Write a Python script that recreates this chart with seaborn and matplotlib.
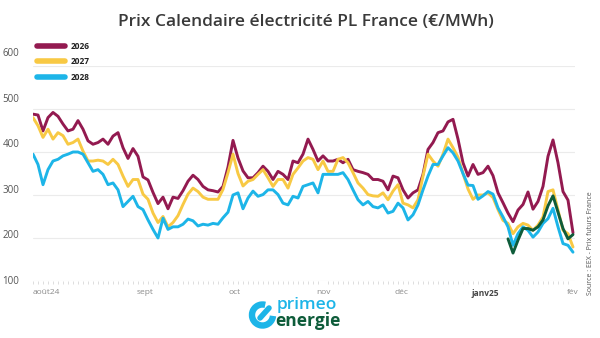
import numpy as np
import pandas as pd
import matplotlib
matplotlib.use("Agg")
import matplotlib.pyplot as plt
import matplotlib.transforms as mtransforms
from matplotlib.patches import Arc
from matplotlib.lines import Line2D
import seaborn as sns

# Daily calendar baseload prices, €/MWh (Aug 2024 – early Feb 2025)
cal_2026 = [488, 486, 449, 480, 492, 483, 465, 449, 453, 473, 453, 426, 418, 422, 430, 418, 437, 445, 410, 385,
            408, 390, 342, 335, 306, 280, 295, 268, 295, 292, 310, 332, 346, 336, 320, 312, 310, 307, 320, 365,
            427, 386, 356, 340, 340, 352, 367, 355, 336, 355, 348, 336, 379, 375, 395, 430, 406, 379, 391, 379,
            379, 383, 375, 383, 359, 355, 352, 348, 336, 336, 332, 312, 344, 340, 312, 293, 305, 312, 348, 406,
            422, 445, 449, 470, 476, 430, 375, 344, 371, 348, 352, 367, 345, 305, 282, 258, 238, 265, 278, 307,
            267, 285, 320, 390, 428, 375, 308, 288, 212]
cal_2027 = [480, 461, 434, 453, 430, 445, 438, 418, 422, 430, 402, 379, 379, 381, 379, 371, 383, 371, 344, 320,
            336, 336, 302, 290, 258, 236, 250, 226, 236, 252, 278, 302, 316, 308, 295, 290, 290, 290, 313, 352,
            395, 350, 321, 332, 336, 348, 359, 340, 320, 336, 336, 316, 348, 363, 379, 387, 383, 359, 379, 355,
            355, 383, 387, 375, 352, 328, 316, 301, 298, 297, 305, 289, 309, 324, 281, 277, 270, 289, 344, 395,
            379, 367, 395, 430, 410, 388, 350, 314, 290, 300, 300, 305, 294, 266, 241, 234, 210, 226, 234, 230,
            218, 230, 249, 308, 312, 265, 218, 210, 179]
cal_2028 = [395, 371, 324, 359, 379, 383, 391, 395, 400, 400, 395, 375, 355, 359, 348, 324, 328, 312, 273, 285,
            297, 273, 266, 242, 220, 200, 246, 220, 226, 226, 232, 244, 240, 228, 232, 230, 234, 232, 247, 260,
            300, 305, 268, 293, 309, 297, 301, 312, 312, 301, 281, 277, 297, 293, 320, 324, 328, 305, 348, 348,
            348, 348, 352, 336, 312, 289, 277, 285, 273, 270, 277, 258, 262, 281, 270, 242, 254, 277, 312, 344,
            371, 371, 391, 410, 398, 379, 350, 323, 322, 290, 298, 308, 302, 270, 249, 226, 183, 210, 226, 218,
            202, 214, 234, 245, 269, 226, 187, 183, 167]
# Extra contract quoted only from mid-January
cal_extra_start = 95
cal_extra = [198, 165, 195, 222, 222, 218, 226, 242, 275, 298, 260, 222, 198, 208]

series_names = ["2026", "2027", "2028"]
series_colors = ["#931A50", "#F8C944", "#1DB5E8"]
extra_color = "#0E5C3A"

month_labels = ["août24", "sept", "oct", "nov", "déc", "janv25", "fév"]
month_pos = [2.6, 22.4, 40.4, 58.0, 73.6, 90.4, 108.0]
y_ticks = [100, 200, 300, 400, 500, 600]

n = len(cal_2026)
day = np.arange(n)
df = pd.concat([
    pd.DataFrame({"jour": day, "prix": vals, "contrat": name})
    for name, vals in zip(series_names, [cal_2026, cal_2027, cal_2028])
], ignore_index=True)
df_extra = pd.DataFrame({"jour": np.arange(cal_extra_start, cal_extra_start + len(cal_extra)),
                         "prix": cal_extra})

sns.set_theme(style="white")
plt.rcParams["font.family"] = ["Open Sans", "DejaVu Sans"]

W, H = 600, 338
fig = plt.figure(figsize=(W / 100, H / 100), dpi=100)
fig.patch.set_facecolor("white")
ax = fig.add_axes([33 / W, 1 - 281 / H, 542 / W, 215 / H])

sns.lineplot(data=df, x="jour", y="prix", hue="contrat", palette=dict(zip(series_names, series_colors)),
             linewidth=2.1, ax=ax, legend=False)
sns.lineplot(data=df_extra, x="jour", y="prix", color=extra_color, linewidth=2.1, ax=ax, legend=False)

ax.set_xlim(0, 108.4)
ax.set_ylim(100, 600)
ax.set_xlabel("")
ax.set_ylabel("")
for s in ax.spines.values():
    s.set_visible(False)

ax.set_yticks(y_ticks)
ax.set_yticklabels([str(v) for v in y_ticks])
ax.yaxis.grid(True, color="#ebebeb", linewidth=0.8)
ax.tick_params(axis="y", length=0, pad=22, labelsize=7, labelcolor="#555555")
# value labels sit slightly above their gridlines, a little more so toward the top
for v, lab in zip(y_ticks, ax.get_yticklabels()):
    lift_px = 2.4 * (v - 100) / 100
    lab.set_horizontalalignment("left")
    lab.set_verticalalignment("center")
    lab.set_transform(lab.get_transform() +
                      mtransforms.ScaledTranslation(0, lift_px / 100, fig.dpi_scale_trans))

ax.set_xticks(month_pos)
ax.set_xticklabels(month_labels)
ax.set_xticks(np.arange(0, 109, 1), minor=True)
ax.tick_params(axis="x", which="major", length=0, pad=6, labelsize=6, labelcolor="#8a8a8a")
ax.tick_params(axis="x", which="minor", length=2.5, width=0.5, color="#d0d0d0", bottom=True)
for lab in ax.get_xticklabels():
    if lab.get_text() == "janv25":
        lab.set_fontweight("bold")
        lab.set_color("#444444")

handles = [Line2D([0], [0], color=c, linewidth=4) for c in series_colors]
leg = ax.legend(handles, series_names, loc="upper left", bbox_to_anchor=(37 / W, 1 - 42 / H),
                bbox_transform=fig.transFigure, frameon=False, borderpad=0, borderaxespad=0,
                handlelength=3.4, handletextpad=0.6, labelspacing=0.75,
                prop={"size": 6, "weight": "bold"})
for t in leg.get_texts():
    t.set_color("#222222")

fig.text(0.51, 1 - 22 / H, "Prix Calendaire électricité PL France (€/MWh)", ha="center", va="center",
         fontsize=12.5, fontweight="semibold", color="#3a3a3a")

fig.text(591 / W, 1 - 243 / H, "Source : EEX - Prix futurs France", rotation=90, ha="center", va="center",
         fontsize=5, color="#555555")

# brand mark
inch = fig.dpi_scale_trans
fig.add_artist(Arc((2.625, (H - 315) / 100), 0.21, 0.21, theta1=75, theta2=355,
                   transform=inch, color="#1DB5E8", linewidth=4.6))
fig.add_artist(Line2D([2.60, 2.69], [(H - 318) / 100, (H - 308) / 100], transform=inch,
                      color="#1DB5E8", linewidth=4.0, solid_capstyle="round"))
fig.text(277 / W, 1 - 309 / H, "primeo", ha="left", va="baseline", fontsize=12.5,
         color="#1DB5E8", fontweight="semibold")
fig.text(275 / W, 1 - 326 / H, "energie", ha="left", va="baseline", fontsize=12.5,
         color="#0E5C3A", fontweight="bold")

fig.savefig("out.png", dpi=100, facecolor="white")
